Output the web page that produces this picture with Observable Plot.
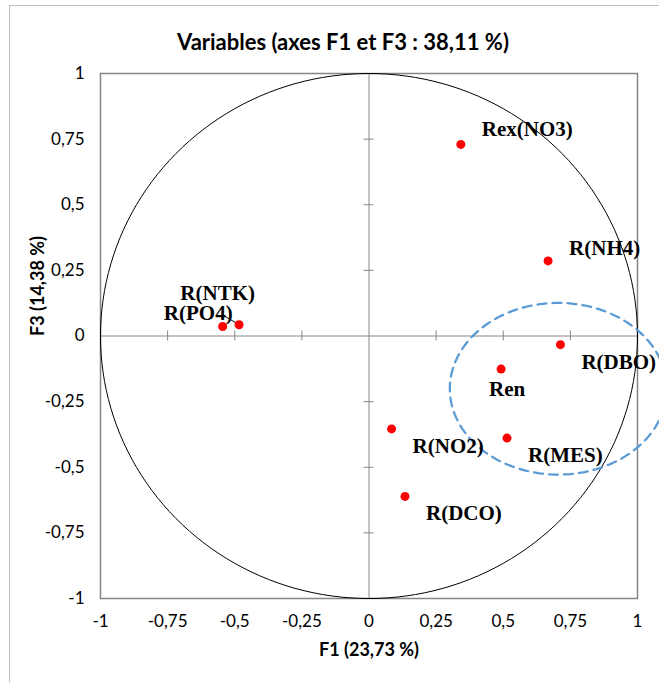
<!DOCTYPE html>
<html>
<head>
<meta charset="utf-8">
<script src="https://cdn.jsdelivr.net/npm/d3@7"></script>
<script src="https://cdn.jsdelivr.net/npm/@observablehq/plot@0.6"></script>
<style>
  html, body { margin: 0; padding: 0; background: #fff; overflow: hidden; }
  #wrap { position: relative; width: 659px; height: 682px; overflow: hidden; }
  #frame { position: absolute; left: 9px; top: 5px; width: 760px; height: 760px; border: 1px solid #bfbfbf; box-sizing: border-box; }
  #title { position: absolute; left: 0; top: 28px; width: 686px; text-align: center; font: bold 22px Lato, sans-serif; color: #000; line-height: 28px; }
  #chart { position: absolute; left: 0; top: 56px; }
</style>
</head>
<body>
<div id="wrap">
  <div id="frame"></div>
  <div id="title">Variables (axes F1 et F3 : 38,11 %)</div>
  <div id="chart"></div>
</div>
<script>
const names = ["Rex(NO3)", "R(NH4)", "R(DBO)", "Ren", "R(MES)", "R(NO2)", "R(DCO)", "R(NTK)", "R(PO4)"];
const f1 = [0.342, 0.667, 0.713, 0.492, 0.514, 0.084, 0.134, -0.484, -0.545];
const f3 = [0.730, 0.286, -0.033, -0.126, -0.389, -0.354, -0.611, 0.043, 0.036];
const tickValues = [-1, -0.75, -0.5, -0.25, 0, 0.25, 0.5, 0.75, 1];
const tickLabels = ["-1", "-0,75", "-0,5", "-0,25", "0", "0,25", "0,5", "0,75", "1"];
const xTitle = "F1 (23,73 %)";
const yTitle = "F3 (14,38 %)";
// highlighted group ellipse: center x, center y, radius x, radius y
const groupEllipse = [0.705, -0.201, 0.404, 0.327];

const points = names.map((n, i) => ({name: n, x: f1[i], y: f3[i]}));

// label placement (pixel offsets) — style only
const labelStyle = {
  "Rex(NO3)": {anchor: "start", dx: 21, dy: -15},
  "R(NH4)": {anchor: "start", dx: 21, dy: -13},
  "R(DBO)": {anchor: "start", dx: 21, dy: 18},
  "Ren": {anchor: "middle", dx: 6, dy: 20},
  "R(MES)": {anchor: "start", dx: 21, dy: 17},
  "R(NO2)": {anchor: "start", dx: 21, dy: 17},
  "R(DCO)": {anchor: "start", dx: 21, dy: 17},
  "R(NTK)": {anchor: "end", dx: 16, dy: -31},
  "R(PO4)": {anchor: "end", dx: 10, dy: -13}
};

const circle = d3.range(0, 361, 2).map(a => ({x: Math.cos(a * Math.PI / 180), y: Math.sin(a * Math.PI / 180)}));
const [ecx, ecy, erx, ery] = groupEllipse;
const ellipse = d3.range(0, 361, 2).map(a => ({x: ecx + erx * Math.cos(a * Math.PI / 180), y: ecy + ery * Math.sin(a * Math.PI / 180)}));

const innerTicks = tickValues.filter(v => v !== -1 && v !== 1 && v !== 0);
const fmt = v => tickLabels[tickValues.indexOf(v)];

const labelMarks = names.map(n => {
  const s = labelStyle[n];
  return Plot.text(points.filter(p => p.name === n), {
    x: "x", y: "y", text: "name", textAnchor: s.anchor, dx: s.dx, dy: s.dy,
    fontFamily: "'Liberation Serif', 'Times New Roman', serif", fontWeight: "bold", fontSize: 21, fill: "#000"
  });
});

const ntk = points.filter(p => p.name === "R(NTK)");

const chart = Plot.plot({
  width: 659,
  height: 626,
  marginTop: 17,
  marginBottom: 84,
  marginLeft: 100,
  marginRight: 22,
  style: {fontFamily: "Lato, sans-serif", background: "transparent", overflow: "hidden"},
  x: {domain: [-1, 1]},
  y: {domain: [-1, 1]},
  marks: [
    Plot.ruleY([0], {stroke: "#868686", strokeWidth: 1}),
    Plot.ruleX([0], {stroke: "#868686", strokeWidth: 1}),
    Plot.ruleX(innerTicks, {x: d => d, y1: 0, y2: 0, insetTop: -5, insetBottom: -5, stroke: "#868686", strokeWidth: 1}),
    Plot.ruleY(innerTicks, {y: d => d, x1: 0, x2: 0, insetLeft: -5, insetRight: -5, stroke: "#868686", strokeWidth: 1}),
    Plot.frame({stroke: "#868686", strokeWidth: 1.5}),
    Plot.line(circle, {x: "x", y: "y", stroke: "#000", strokeWidth: 1, curve: "linear"}),
    Plot.line(ellipse, {x: "x", y: "y", stroke: "#5b9bd5", strokeWidth: 2.25, strokeDasharray: "9,6", curve: "linear"}),
    Plot.link(ntk, {x1: "x", y1: "y", x2: d => d.x - 0.056, y2: d => d.y + 0.034, stroke: "#000", strokeWidth: 1}),
    Plot.dot(points, {x: "x", y: "y", r: 4.5, fill: "#ff0000", stroke: "none"}),
    ...labelMarks,
    Plot.axisX({ticks: tickValues, tickFormat: fmt, tickSize: 0, tickPadding: 16, fontSize: 17, label: null, color: "#000"}),
    Plot.axisY({ticks: tickValues, tickFormat: fmt, tickSize: 0, tickPadding: 16, fontSize: 17, label: null, color: "#000"}),
    Plot.text([xTitle], {text: d => d, frameAnchor: "bottom", dy: 57, fontWeight: "bold", fontSize: 18, fill: "#000"}),
    Plot.text([yTitle], {text: d => d, frameAnchor: "left", dx: -62, rotate: -90, fontWeight: "bold", fontSize: 18, fill: "#000"})
  ]
});
document.getElementById("chart").appendChild(chart);
</script>
</body>
</html>
